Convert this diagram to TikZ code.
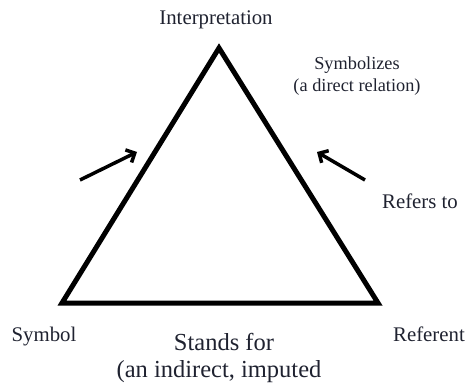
\documentclass[tikz,border=0pt]{standalone}
\usepackage{fontspec}
\setmainfont{Liberation Serif}
\usetikzlibrary{arrows.meta}
\definecolor{txt}{HTML}{1F2230}
\tikzset{
  side/.style={line width=5pt, line join=miter},
  pointer/.style={line width=3.5pt, -{Straight Barb[length=7pt,width=14pt,line width=3.5pt]}},
  lbl/.style={anchor=base, inner sep=0pt, text=txt, font=\fontsize{20.8}{22}\selectfont},
  small/.style={lbl, font=\fontsize{18.3}{20}\selectfont},
  big/.style={lbl, font=\fontsize{24.5}{26}\selectfont}
}
\begin{document}
\begin{tikzpicture}[x=1pt,y=1pt]
\useasboundingbox (0,0) rectangle (468,383);
\coordinate (A) at (219,335);
\coordinate (L) at (62,80);
\coordinate (R) at (378,80);
\draw[side] (L) -- (A) -- (R) -- cycle;
\coordinate (la) at (80,203);
\coordinate (lb) at (137,231);
\coordinate (ra) at (365,203);
\coordinate (rb) at (317,231);
\draw[pointer] (la) -- (lb);
\draw[pointer] (ra) -- (rb);
\node[lbl] (interp) at (216,358) {Interpretation};
\node[small] (symz) at (357,313) {Symbolizes};
\node[small] (direct) at (357,291) {(a direct relation)};
\node[lbl] (refto) at (420,174) {Refers to};
\node[lbl] (symbol) at (44,42) {Symbol};
\node[lbl] (referent) at (429,42) {Referent};
\node[big] (stands) at (224,33) {Stands for};
\node[big] (indirect) at (219,6) {(an indirect, imputed};
\end{tikzpicture}
\end{document}
